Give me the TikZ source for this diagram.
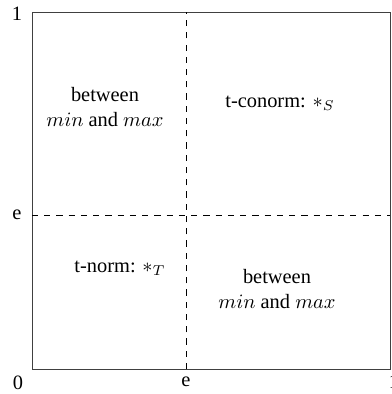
\documentclass[tikz,border=0pt]{standalone}
\usepackage{fontspec}
\setmainfont{Liberation Serif}
\usepackage{tikz}

\begin{document}
\begin{tikzpicture}[x=0.49pt,y=0.49pt]
  % frame 391 x 394
  \useasboundingbox (0,0) rectangle (391,394);
  \def\Xa{32}
  \def\Xb{390}
  \def\Ya{25}
  \def\Yb{382}
  \def\Ex{186}
  \def\Ey{179}

  % unit square
  \draw[black!75] (\Xa,\Ya) rectangle (\Xb,\Yb);

  % e lines
  \draw[dashed] (\Ex,\Ya) -- (\Ex,\Yb);
  \draw[dashed] (\Xa,\Ey) -- (\Xb,\Ey);

  % axis labels
  \node (yone)  at (17,380) {1};
  \node (ye)    at (17,\Ey) {e};
  \node (zero)  at (18,11)  {0};
  \node (xe)    at (\Ex,12) {e};
  \node (xone)  at (394,12) {1};

  % regions
  \node[align=center] (tl) at (105,287) {between\\$min$ and $max$};
  \node (tr) at (280,291) {t-conorm: $*_S$};
  \node (bl) at (120,126) {t-norm: $*_T$};
  \node[align=center] (br) at (277,105) {between\\$min$ and $max$};
\end{tikzpicture}
\end{document}
